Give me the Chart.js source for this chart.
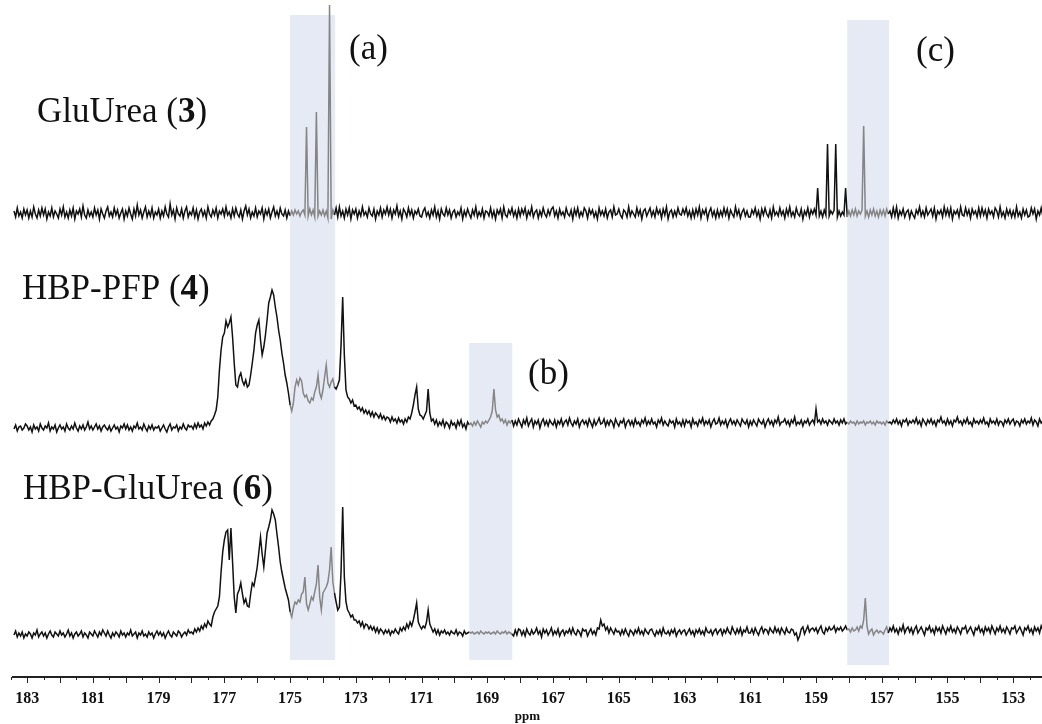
<!DOCTYPE html>
<html><head><meta charset="utf-8">
<script src="https://cdn.jsdelivr.net/npm/chart.js@4.4.1/dist/chart.umd.min.js"></script>
<style>html,body{margin:0;padding:0;background:#fff;}canvas{display:block;}</style>
</head><body>
<canvas id="c" width="1042" height="724"></canvas>
<script>
// chemical shift axis (ppm) shared by all three spectra
const ppm = [
183.4,183.35,183.3,183.25,183.2,183.15,183.1,183.05,
183,182.95,182.9,182.85,182.8,182.75,182.7,182.65,182.6,182.55,182.5,182.45,182.4,182.35,182.3,182.25,182.2,182.15,182.1,182.05,
182,181.95,181.9,181.85,181.8,181.75,181.7,181.65,181.6,181.55,181.5,181.45,181.4,181.35,181.3,181.25,181.2,181.15,181.1,181.05,
181,180.95,180.9,180.85,180.8,180.75,180.7,180.65,180.6,180.55,180.5,180.45,180.4,180.35,180.3,180.25,180.2,180.15,180.1,180.05,
180,179.95,179.9,179.85,179.8,179.75,179.7,179.65,179.6,179.55,179.5,179.45,179.4,179.35,179.3,179.25,179.2,179.15,179.1,179.05,
179,178.95,178.9,178.85,178.8,178.75,178.7,178.65,178.6,178.55,178.5,178.45,178.4,178.35,178.3,178.25,178.2,178.15,178.1,178.05,
178,177.95,177.9,177.85,177.8,177.75,177.7,177.65,177.6,177.55,177.5,177.45,177.4,177.35,177.3,177.25,177.2,177.15,177.1,177.05,
177,176.95,176.9,176.85,176.8,176.75,176.7,176.65,176.6,176.55,176.5,176.45,176.4,176.35,176.3,176.25,176.2,176.15,176.1,176.05,
176,175.95,175.9,175.85,175.8,175.75,175.7,175.65,175.6,175.55,175.5,175.45,175.4,175.35,175.3,175.25,175.2,175.15,175.1,175.05,
175,174.95,174.9,174.85,174.8,174.75,174.7,174.65,174.6,174.55,174.5,174.45,174.4,174.35,174.3,174.25,174.2,174.15,174.1,174.05,
174,173.95,173.9,173.85,173.8,173.75,173.7,173.65,173.6,173.55,173.5,173.45,173.4,173.35,173.3,173.25,173.2,173.15,173.1,173.05,
173,172.95,172.9,172.85,172.8,172.75,172.7,172.65,172.6,172.55,172.5,172.45,172.4,172.35,172.3,172.25,172.2,172.15,172.1,172.05,
172,171.95,171.9,171.85,171.8,171.75,171.7,171.65,171.6,171.55,171.5,171.45,171.4,171.35,171.3,171.25,171.2,171.15,171.1,171.05,
171,170.95,170.9,170.85,170.8,170.75,170.7,170.65,170.6,170.55,170.5,170.45,170.4,170.35,170.3,170.25,170.2,170.15,170.1,170.05,
170,169.95,169.9,169.85,169.8,169.75,169.7,169.65,169.6,169.55,169.5,169.45,169.4,169.35,169.3,169.25,169.2,169.15,169.1,169.05,
169,168.95,168.9,168.85,168.8,168.75,168.7,168.65,168.6,168.55,168.5,168.45,168.4,168.35,168.3,168.25,168.2,168.15,168.1,168.05,
168,167.95,167.9,167.85,167.8,167.75,167.7,167.65,167.6,167.55,167.5,167.45,167.4,167.35,167.3,167.25,167.2,167.15,167.1,167.05,
167,166.95,166.9,166.85,166.8,166.75,166.7,166.65,166.6,166.55,166.5,166.45,166.4,166.35,166.3,166.25,166.2,166.15,166.1,166.05,
166,165.95,165.9,165.85,165.8,165.75,165.7,165.65,165.6,165.55,165.5,165.45,165.4,165.35,165.3,165.25,165.2,165.15,165.1,165.05,
165,164.95,164.9,164.85,164.8,164.75,164.7,164.65,164.6,164.55,164.5,164.45,164.4,164.35,164.3,164.25,164.2,164.15,164.1,164.05,
164,163.95,163.9,163.85,163.8,163.75,163.7,163.65,163.6,163.55,163.5,163.45,163.4,163.35,163.3,163.25,163.2,163.15,163.1,163.05,
163,162.95,162.9,162.85,162.8,162.75,162.7,162.65,162.6,162.55,162.5,162.45,162.4,162.35,162.3,162.25,162.2,162.15,162.1,162.05,
162,161.95,161.9,161.85,161.8,161.75,161.7,161.65,161.6,161.55,161.5,161.45,161.4,161.35,161.3,161.25,161.2,161.15,161.1,161.05,
161,160.95,160.9,160.85,160.8,160.75,160.7,160.65,160.6,160.55,160.5,160.45,160.4,160.35,160.3,160.25,160.2,160.15,160.1,160.05,
160,159.95,159.9,159.85,159.8,159.75,159.7,159.65,159.6,159.55,159.5,159.45,159.4,159.35,159.3,159.25,159.2,159.15,159.1,159.05,
159,158.95,158.9,158.85,158.8,158.75,158.7,158.65,158.6,158.55,158.5,158.45,158.4,158.35,158.3,158.25,158.2,158.15,158.1,158.05,
158,157.95,157.9,157.85,157.8,157.75,157.7,157.65,157.6,157.55,157.5,157.45,157.4,157.35,157.3,157.25,157.2,157.15,157.1,157.05,
157,156.95,156.9,156.85,156.8,156.75,156.7,156.65,156.6,156.55,156.5,156.45,156.4,156.35,156.3,156.25,156.2,156.15,156.1,156.05,
156,155.95,155.9,155.85,155.8,155.75,155.7,155.65,155.6,155.55,155.5,155.45,155.4,155.35,155.3,155.25,155.2,155.15,155.1,155.05,
155,154.95,154.9,154.85,154.8,154.75,154.7,154.65,154.6,154.55,154.5,154.45,154.4,154.35,154.3,154.25,154.2,154.15,154.1,154.05,
154,153.95,153.9,153.85,153.8,153.75,153.7,153.65,153.6,153.55,153.5,153.45,153.4,153.35,153.3,153.25,153.2,153.15,153.1,153.05,
153,152.95,152.9,152.85,152.8,152.75,152.7,152.65,152.6,152.55,152.5,152.45,152.4,152.35,152.3,152.25,152.2,152.15,152.1,152.05
];

// intensities (relative to each spectrum's own baseline)
const gluUrea3 = [
2,-4,5,-3,1,-5,4,-2,
3,-5,2,-4,6,-1,-5,3,-3,5,-2,4,-6,1,-3,5,-4,2,-1,-5,
4,-2,6,-4,1,-5,3,-3,5,-6,2,-1,4,-4,7,-2,-5,3,-3,1,
-4,5,-2,3,-6,4,-1,-5,2,6,-3,1,-4,5,-2,3,-5,0,4,-6,
2,-3,5,-1,-6,4,-3,8,-2,3,-5,1,6,-4,2,-3,5,-5,1,-2,
4,-5,2,-3,6,-1,-4,9,-2,3,-6,5,-1,-3,4,-5,2,6,-4,1,
-2,5,-4,3,-6,1,4,-3,2,-5,6,-1,-4,3,-2,5,-5,2,-1,4,
-3,6,-2,1,-5,4,-3,5,-1,-4,3,-6,2,7,-2,4,-5,1,-3,5,
-4,2,-1,5,-6,3,-2,4,-5,1,6,-3,2,-4,5,-1,-3,3,-5,2,
-3,2,-2,3,-1,2,-3,1,3,-2,86,-3,4,-2,3,-4,101,-3,2,-2,
3,-3,2,-5,208,-6,3,-2,5,-4,6,-3,2,-5,4,-2,5,-6,3,-1,
4,-5,2,-3,6,-2,1,-4,5,-1,-3,4,-6,2,-2,5,-4,3,-1,6,
-2,4,-5,3,-1,7,-3,2,-6,4,1,-4,5,-2,3,-5,2,-1,4,-3,
-4,2,5,-3,1,-5,3,-2,6,-4,2,-6,4,-1,-3,5,-2,3,-5,1,
3,-4,1,-2,5,-6,2,-3,4,-1,-5,3,-2,6,-4,1,-3,4,-5,2,
1,-3,5,-4,2,-6,3,-1,4,-5,6,-2,-4,3,-1,5,-3,2,-5,4,
-3,4,-1,5,-5,2,-2,6,-4,1,3,-5,2,-3,5,-1,-4,3,-2,4,
6,-3,2,-5,4,-2,1,-4,5,-1,-3,3,-6,4,-2,5,-4,1,-3,5,
2,-5,4,-1,3,-4,1,-6,5,-2,2,-3,4,-5,1,3,-4,6,-2,-1,
4,-2,-5,3,1,-4,6,-3,2,-1,-4,5,-2,3,-6,2,4,-3,1,5,
-3,2,-4,5,-1,3,-5,4,-2,6,-6,1,3,-4,2,-3,5,-1,-2,4,
-1,5,-3,2,-5,3,-4,4,-2,6,-5,3,-1,4,-6,1,5,-3,2,-5,
3,-4,2,-3,5,-2,4,-5,3,-1,-4,6,-2,3,-5,1,4,-3,2,-4,
-4,3,-1,5,-3,2,-6,4,-2,5,-1,-4,3,-5,6,-2,1,-3,5,-2,
2,-5,4,-2,6,-3,1,-4,5,-1,-3,4,-6,2,-2,5,-4,3,-1,4,
-2,25,-3,2,-4,3,-2,69,-3,2,-1,3,69,-4,2,-3,1,-2,25,-4,
2,-3,3,-2,4,-3,2,-1,3,87,-3,2,-4,3,-2,4,-3,2,-4,3,
-2,3,-3,4,-1,2,-4,5,-3,6,-5,2,-2,4,-4,1,3,-5,2,-2,
-5,3,-1,6,-3,2,-4,5,-2,1,4,-3,5,-6,2,-1,3,-4,6,-2,
4,-3,5,-6,2,-1,3,-4,6,-2,-3,5,-2,3,-5,4,-1,2,-4,5,
-3,5,-2,3,-5,4,-1,2,-4,5,2,-4,6,-3,1,-5,4,-2,3,-4,
2,-4,6,-3,1,-5,4,-2,3,-4,-3,5,-1,4,-6,2,-2,5,-3,1
];

const hbpPfp4 = [
-4,0,-6,-2,-1,-5,-3,1,
-1,-5,-2,-7,0,-4,-2,-6,1,-3,-5,-1,-3,2,-6,-2,-4,0,-7,-3,
0,-4,-2,-6,1,-3,-5,-1,-4,2,-3,-6,-1,-4,0,-5,-2,3,-4,-1,
-5,-2,1,-4,-1,-6,-2,0,-3,-5,-1,-6,-3,0,-4,-2,-7,-1,-3,1,
-4,0,-5,-2,-6,-1,-3,2,-4,-2,-5,1,-3,-6,-1,-4,0,-5,-2,-3,
-1,-6,-3,0,-4,-7,-2,1,-5,-2,-3,0,-6,-2,-4,1,-3,-5,0,-2,
-1,-4,1,-3,2,-2,0,-4,2,-1,3,0,4,6,10,15,28,55,75,88,
92,104,98,102,108,88,62,40,38,48,52,44,40,45,38,40,50,62,75,92,
100,105,85,70,78,90,105,122,128,135,130,118,108,95,85,72,62,50,42,32,
20,14,22,38,45,40,47,44,32,28,30,24,22,27,25,33,38,50,32,27,
35,48,60,42,38,43,46,38,36,40,45,80,128,70,35,28,26,22,25,19,
20,16,18,14,17,12,15,11,14,9,13,8,12,10,7,11,6,9,5,8,
7,3,8,4,6,2,7,3,5,1,6,3,8,6,12,20,30,38,16,10,
9,6,10,14,36,12,4,6,1,5,-1,3,0,5,-2,3,1,-3,4,0,
2,-3,4,0,5,-2,1,-4,3,0,2,-1,3,0,4,1,-2,3,1,4,
2,5,8,14,36,15,8,10,4,6,2,5,0,4,2,5,-1,4,0,6,
2,-2,5,1,7,-1,3,6,-2,4,1,5,-3,3,6,0,4,-1,5,2,
0,5,-2,4,1,6,-1,3,5,0,7,2,-1,4,1,6,-2,3,5,1,
4,-1,6,2,-2,5,0,3,7,1,2,6,-1,4,0,5,3,-2,6,2,
-1,4,2,6,-2,3,5,0,4,-1,6,1,3,-1,5,2,7,0,4,1,
6,1,3,-2,5,2,7,0,4,1,-1,5,2,4,-2,6,1,3,-1,5,
-1,5,2,4,-2,6,1,3,-1,5,2,7,0,4,1,5,-2,3,6,1,
2,7,0,4,1,5,-2,3,6,1,4,0,5,2,-1,6,3,1,5,-2,
4,0,5,2,-1,6,3,1,5,-2,3,6,1,4,-1,5,2,8,0,3,
3,6,1,4,-1,5,2,8,0,3,1,5,-1,4,2,6,0,3,5,1,
16,3,5,1,6,2,4,0,5,3,1,6,2,4,0,5,2,6,1,3,
1,4,2,3,0,4,1,3,2,4,0,3,2,4,1,3,0,4,2,3,
1,3,0,4,2,3,1,5,2,6,1,4,-1,5,3,6,0,4,2,5,
2,7,1,4,-1,6,3,0,5,2,6,1,4,-1,5,3,8,2,4,0,
6,1,4,-1,5,3,8,2,4,0,5,2,7,1,3,-1,6,2,4,1,
5,2,7,1,3,-1,6,2,4,1,6,0,4,3,-1,5,2,6,1,4,
6,0,4,3,-1,5,2,6,1,4,2,7,0,5,3,-1,6,2,4,1
];

const hbpGluUrea6 = [
-3,1,-5,-1,-4,0,-6,-2,
-4,0,-2,-6,-1,-3,2,-5,-2,0,-4,-1,-6,-2,1,-3,-5,0,-2,-4,
1,-3,-1,-5,-2,2,-4,-1,-6,-2,0,-4,-2,1,-5,-1,-3,-6,0,-2,
-4,1,-2,-5,0,-3,2,-1,-4,1,-3,-6,-1,-4,0,-2,-5,1,-3,-1,
-5,-1,-3,2,-4,-2,0,-6,-1,-3,1,-4,-2,-5,0,-3,-1,-6,-2,1,
-3,0,-4,-1,-6,-2,1,-3,-5,0,-2,-4,1,-1,-5,-2,0,-3,2,-1,
0,-2,3,0,4,1,6,3,8,5,11,8,6,15,20,23,26,35,60,80,
92,100,102,72,104,70,35,19,38,42,49,38,29,33,26,25,38,49,46,55,
65,80,95,78,65,82,99,105,112,122,118,112,98,85,70,60,52,44,38,32,
20,15,24,30,28,32,30,38,40,55,28,22,28,35,32,40,48,67,35,22,
39,42,45,50,62,85,50,39,30,22,25,60,125,55,30,22,19,15,17,12,
12,9,11,6,10,4,8,7,3,6,2,5,0,4,-1,3,1,-2,2,-1,
2,-3,1,-1,3,0,-2,4,1,5,2,8,4,10,6,12,20,29,10,6,
3,6,4,10,22,8,4,0,3,-2,2,-3,1,-1,2,-2,0,-3,1,-1,
-2,2,-3,0,-1,-4,1,-2,-1,0,-1,0,-2,-1,0,-2,1,-1,-2,0,
-1,0,-2,-1,0,-2,1,-1,-2,0,-1,1,-2,0,-1,-2,-4,2,-3,3,
2,-3,1,-4,3,-1,-3,2,-2,0,4,-2,1,-5,3,-1,2,-3,0,4,
-3,1,-2,3,-4,0,2,-3,1,-1,3,-2,4,-1,-3,2,0,-4,3,1,
2,-4,0,3,-2,1,-3,4,3,12,6,8,2,5,-1,4,1,-2,3,0,
1,-3,2,-2,3,-1,-4,2,0,-3,2,-1,4,-2,1,-3,3,0,-2,2,
3,-1,-4,1,-2,2,-3,4,-1,-2,1,-3,2,-1,3,-4,0,2,-2,1,
2,-3,0,3,-2,1,-4,2,-1,3,-2,1,-3,4,0,-1,2,-3,1,3,
-2,1,3,-3,2,-1,4,0,-2,5,1,-2,3,-1,4,-3,2,0,5,-1,
-1,3,-2,4,0,-3,2,5,-1,3,2,-2,4,1,-1,5,0,3,-2,4,
1,-2,4,0,-1,3,2,-3,-1,-8,-4,3,5,-2,2,6,0,3,4,1,
4,-1,3,6,0,-2,4,1,5,2,3,6,0,4,2,5,1,3,6,2,
3,0,4,1,2,5,1,6,4,12,34,6,-2,1,3,-3,0,2,-1,1,
0,-2,2,5,-1,4,1,6,0,3,-2,4,1,7,-1,3,5,0,4,-2,
3,6,-1,2,5,1,-3,4,2,6,0,3,-2,5,1,4,-1,6,2,-2,
4,1,6,0,3,-1,5,2,-2,4,3,6,-1,2,5,1,-3,4,2,6,
0,3,-2,5,1,4,-1,6,2,-2,4,1,6,0,3,-1,5,2,-2,4,
3,6,-1,2,5,1,-3,4,2,6,0,3,-2,5,1,4,-1,6,2,-2
];

const spectra = [gluUrea3, hbpPfp4, hbpGluUrea6];
const spectrumNames = ['GluUrea (', 'HBP-PFP (', 'HBP-GluUrea ('];
const compoundNumbers = ['3', '4', '6'];
const tickLabels = [183,181,179,177,175,173,171,169,167,165,163,161,159,157,155,153];
const axisTitle = 'ppm';

// highlighted shift regions (ppm) and which spectra they cover
const bandLabels = ['(a)', '(b)', '(c)'];
const bandFrom = [175.0, 169.55, 158.05];
const bandTo = [173.63, 168.24, 156.78];
const bandCovers = [[0,1,2], [1,2], [0,1,2]];

// ---- layout (not data) ----
const LAYOUT = {
  offsets: [464, 252, 45],
  bandY: [[662, 17], [334, 17], [657, 12]],
  nameXY: [[37, 122], [22, 299], [23, 499]],
  bandLabelXY: [[349, 59], [528, 384], [916, 61]],
  font: '"Liberation Serif", "Times New Roman", serif',
  fontSize: 35
};

function inBand(p, s) {
  for (let b = 0; b < bandFrom.length; b++) {
    if (bandCovers[b].includes(s) && p <= bandFrom[b] && p >= bandTo[b]) return true;
  }
  return false;
}

const datasets = spectra.map((vals, s) => ({
  data: ppm.map((p, i) => ({ x: p, y: LAYOUT.offsets[s] + vals[i] })),
  borderColor: '#111',
  borderWidth: 1.5,
  pointRadius: 0,
  tension: 0,
  clip: false,
  segment: {
    borderColor: ctx => inBand((ctx.p0.parsed.x + ctx.p1.parsed.x) / 2, s) ? '#858585' : '#111'
  }
}));

const decorPlugin = {
  id: 'decor',
  beforeDatasetsDraw(chart) {
    const { ctx, scales: { x, y } } = chart;
    ctx.save();
    ctx.fillStyle = '#e5eaf4';
    for (let b = 0; b < bandFrom.length; b++) {
      const x0 = x.getPixelForValue(bandFrom[b]), x1 = x.getPixelForValue(bandTo[b]);
      const y0 = y.getPixelForValue(LAYOUT.bandY[b][0]), y1 = y.getPixelForValue(LAYOUT.bandY[b][1]);
      ctx.fillRect(x0, y0, x1 - x0, y1 - y0);
    }
    ctx.restore();
  },
  afterDraw(chart) {
    const { ctx, scales: { x }, chartArea } = chart;
    ctx.save();
    ctx.strokeStyle = '#222';
    ctx.lineWidth = 1;
    const y0 = chartArea.bottom;
    for (let v = 183.5; v >= 152.5; v -= 0.5) {
      const px = Math.round(x.getPixelForValue(v)) + 0.5;
      const len = Number.isInteger(v) ? 6 : 3;
      ctx.beginPath();
      ctx.moveTo(px, y0);
      ctx.lineTo(px, y0 + len);
      ctx.stroke();
    }
    ctx.fillStyle = '#111';
    ctx.textBaseline = 'alphabetic';
    const reg = LAYOUT.fontSize + 'px ' + LAYOUT.font;
    const bold = 'bold ' + LAYOUT.fontSize + 'px ' + LAYOUT.font;
    spectrumNames.forEach((name, s) => {
      let [tx, ty] = LAYOUT.nameXY[s];
      const parts = [[name, reg], [compoundNumbers[s], bold], [')', reg]];
      parts.forEach(([t, f]) => {
        ctx.font = f;
        ctx.fillText(t, tx, ty);
        tx += ctx.measureText(t).width;
      });
    });
    ctx.font = reg;
    bandLabels.forEach((t, b) => {
      ctx.fillText(t, LAYOUT.bandLabelXY[b][0], LAYOUT.bandLabelXY[b][1]);
    });
    const bad = spectra.filter(a => a.length !== ppm.length).map(a => a.length);
    if (bad.length) { ctx.fillStyle = 'red'; ctx.font = '14px sans-serif'; ctx.fillText('len ' + ppm.length + ' vs ' + bad.join(','), 600, 20); }
    ctx.restore();
  }
};

new Chart(document.getElementById('c'), {
  type: 'line',
  data: { datasets },
  options: {
    responsive: false,
    animation: false,
    devicePixelRatio: 1,
    layout: { padding: { left: 13, right: 0, top: 0, bottom: 0 } },
    plugins: { legend: { display: false }, tooltip: { enabled: false } },
    scales: {
      x: {
        type: 'linear',
        reverse: true,
        min: 152.125,
        max: 183.43,
        afterBuildTicks: sc => { sc.ticks = tickLabels.map(v => ({ value: v })); },
        afterFit: sc => { sc.height = 47; },
        ticks: {
          autoSkip: false,
          maxRotation: 0,
          padding: 6,
          color: '#111',
          font: { family: LAYOUT.font, size: 16, weight: 'bold' },
          callback: v => String(v)
        },
        grid: { display: true, drawOnChartArea: false, drawTicks: true, tickLength: 6, tickColor: 'rgba(0,0,0,0)' },
        border: { display: true, color: '#222', width: 2 },
        title: {
          display: true, text: axisTitle, color: '#111',
          font: { family: LAYOUT.font, size: 13, weight: 'bold' },
          padding: { top: 0, bottom: 0 }
        }
      },
      y: { display: false, min: 0, max: 677 }
    }
  },
  plugins: [decorPlugin]
});
</script>
</body></html>
